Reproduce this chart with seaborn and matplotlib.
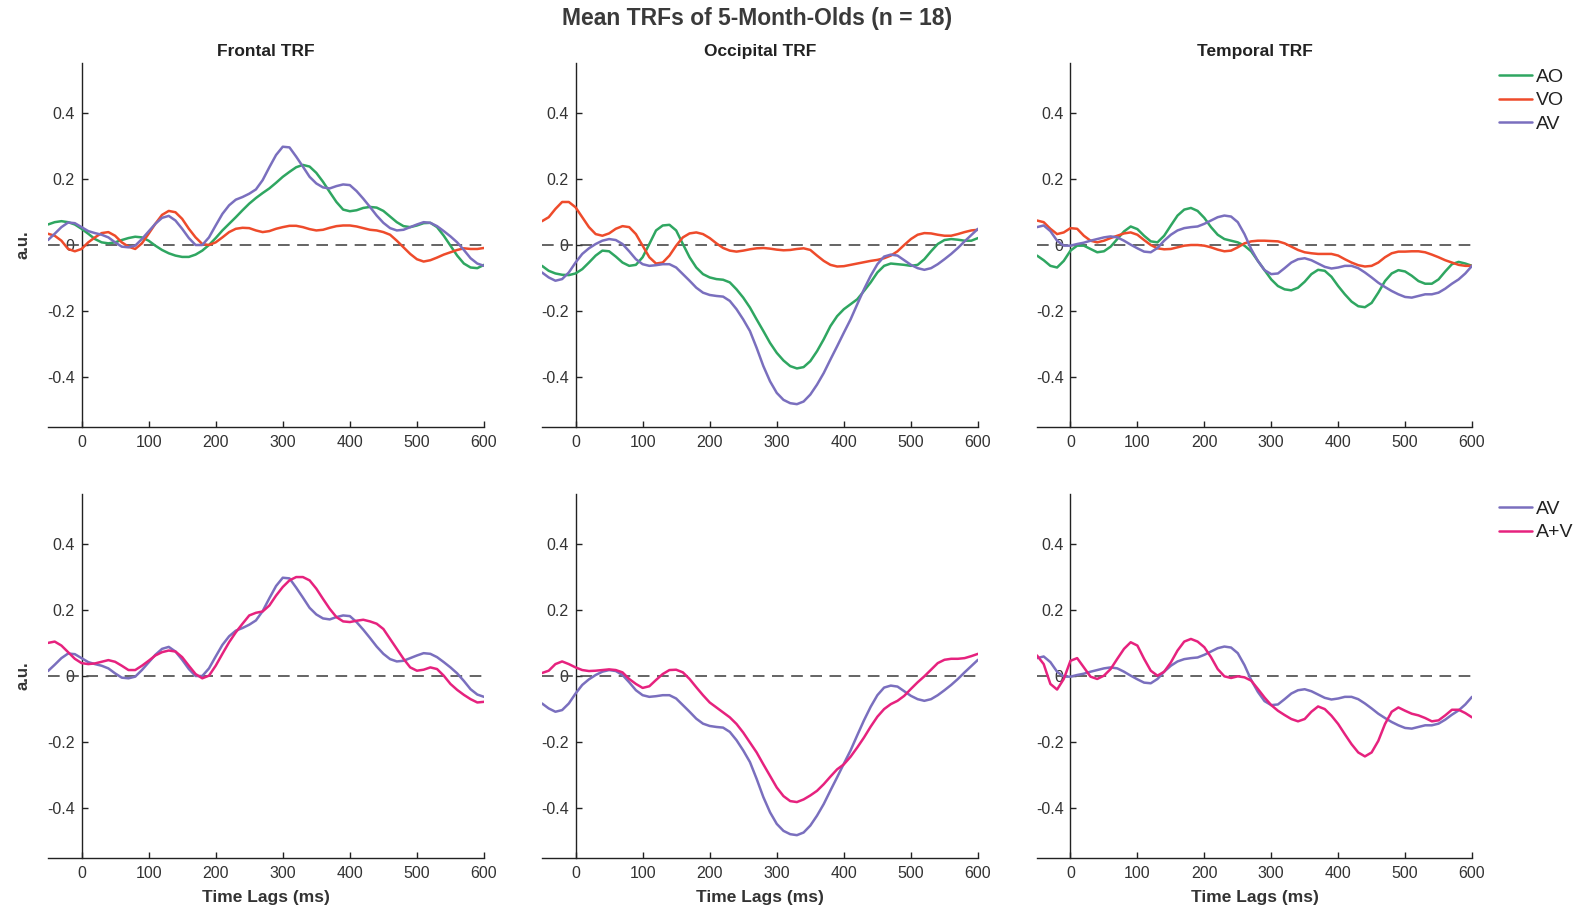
import numpy as np
import pandas as pd
import matplotlib
matplotlib.use("Agg")
import matplotlib.pyplot as plt
import seaborn as sns
from matplotlib.lines import Line2D

sns.set_style("white")
plt.rcParams["font.family"] = ["Liberation Sans", "DejaVu Sans"]

# Time lags (ms), 10 ms steps from -50 to 600
lags = list(range(-50, 601, 10))

# ---- Frontal ----
frontal_ao = [0.062, 0.069, 0.072, 0.069, 0.062, 0.049, 0.034, 0.018, 0.008, 0.005,
              0.008, 0.015, 0.021, 0.025, 0.023, 0.013, -0.002, -0.015, -0.025, -0.032,
              -0.036, -0.036, -0.029, -0.017, 0.0, 0.021, 0.044, 0.064, 0.084, 0.105,
              0.125, 0.142, 0.157, 0.171, 0.188, 0.206, 0.221, 0.235, 0.242, 0.237,
              0.218, 0.191, 0.160, 0.130, 0.107, 0.102, 0.105, 0.112, 0.115, 0.113,
              0.103, 0.086, 0.069, 0.057, 0.054, 0.059, 0.066, 0.067, 0.054, 0.028,
              -0.002, -0.032, -0.056, -0.068, -0.070, -0.060]
frontal_vo = [0.034, 0.028, 0.013, -0.012, -0.019, -0.012, 0.008, 0.023, 0.036, 0.039,
              0.028, 0.008, -0.005, -0.012, 0.005, 0.034, 0.064, 0.091, 0.103, 0.099,
              0.079, 0.049, 0.023, 0.003, 0.0, 0.008, 0.023, 0.039, 0.049, 0.052,
              0.051, 0.044, 0.039, 0.042, 0.049, 0.054, 0.058, 0.058, 0.054, 0.048,
              0.044, 0.046, 0.052, 0.057, 0.059, 0.059, 0.056, 0.051, 0.046, 0.044,
              0.039, 0.031, 0.013, -0.007, -0.027, -0.043, -0.050, -0.046, -0.038, -0.029,
              -0.022, -0.015, -0.010, -0.012, -0.012, -0.009]
frontal_av = [0.015, 0.034, 0.054, 0.068, 0.066, 0.054, 0.042, 0.036, 0.031, 0.023,
              0.008, -0.005, -0.007, -0.002, 0.018, 0.041, 0.064, 0.082, 0.088, 0.074,
              0.049, 0.021, 0.0, 0.0, 0.023, 0.059, 0.094, 0.120, 0.137, 0.145,
              0.155, 0.168, 0.196, 0.235, 0.272, 0.297, 0.295, 0.267, 0.237, 0.206,
              0.186, 0.174, 0.171, 0.178, 0.183, 0.181, 0.163, 0.140, 0.115, 0.089,
              0.067, 0.051, 0.044, 0.046, 0.054, 0.062, 0.069, 0.067, 0.057, 0.042,
              0.026, 0.008, -0.015, -0.040, -0.056, -0.063]
frontal_apv = [0.100, 0.104, 0.092, 0.072, 0.052, 0.039, 0.036, 0.038, 0.043, 0.048,
               0.043, 0.031, 0.018, 0.018, 0.031, 0.046, 0.062, 0.072, 0.077, 0.074,
               0.057, 0.031, 0.006, -0.007, 0.001, 0.031, 0.067, 0.102, 0.132, 0.158,
               0.183, 0.191, 0.195, 0.213, 0.243, 0.269, 0.289, 0.299, 0.299, 0.289,
               0.264, 0.233, 0.203, 0.178, 0.165, 0.163, 0.167, 0.170, 0.165, 0.158,
               0.142, 0.112, 0.082, 0.052, 0.026, 0.016, 0.019, 0.026, 0.021, 0.001,
               -0.024, -0.042, -0.057, -0.070, -0.080, -0.078]

# ---- Occipital ----
occipital_ao = [-0.063, -0.078, -0.086, -0.090, -0.091, -0.086, -0.073, -0.053, -0.032, -0.017,
                -0.019, -0.035, -0.053, -0.063, -0.060, -0.037, 0.003, 0.044, 0.059, 0.061,
                0.044, 0.003, -0.037, -0.068, -0.088, -0.098, -0.103, -0.105, -0.113, -0.134,
                -0.159, -0.189, -0.225, -0.260, -0.296, -0.326, -0.349, -0.366, -0.373, -0.369,
                -0.351, -0.321, -0.285, -0.245, -0.215, -0.194, -0.179, -0.164, -0.139, -0.113,
                -0.083, -0.063, -0.056, -0.058, -0.060, -0.063, -0.060, -0.043, -0.019, 0.003,
                0.015, 0.018, 0.016, 0.013, 0.013, 0.021]
occipital_vo = [0.072, 0.084, 0.109, 0.130, 0.130, 0.114, 0.084, 0.054, 0.033, 0.028,
                0.035, 0.049, 0.057, 0.054, 0.033, -0.002, -0.037, -0.056, -0.053, -0.032,
                -0.002, 0.023, 0.035, 0.038, 0.033, 0.021, 0.005, -0.009, -0.017, -0.020,
                -0.017, -0.013, -0.010, -0.009, -0.011, -0.014, -0.016, -0.015, -0.012, -0.010,
                -0.015, -0.032, -0.048, -0.060, -0.065, -0.064, -0.060, -0.056, -0.052, -0.048,
                -0.045, -0.040, -0.032, -0.019, 0.0, 0.018, 0.031, 0.036, 0.035, 0.031,
                0.028, 0.028, 0.033, 0.039, 0.044, 0.046]
occipital_av = [-0.083, -0.098, -0.108, -0.103, -0.083, -0.053, -0.027, -0.010, 0.003, 0.013,
                0.018, 0.015, 0.003, -0.019, -0.043, -0.058, -0.063, -0.061, -0.058, -0.058,
                -0.068, -0.088, -0.108, -0.129, -0.144, -0.151, -0.154, -0.156, -0.169, -0.194,
                -0.225, -0.260, -0.311, -0.366, -0.412, -0.447, -0.468, -0.478, -0.481, -0.473,
                -0.452, -0.422, -0.387, -0.346, -0.306, -0.265, -0.225, -0.179, -0.134, -0.093,
                -0.058, -0.035, -0.029, -0.032, -0.046, -0.060, -0.070, -0.075, -0.070, -0.058,
                -0.043, -0.027, -0.009, 0.011, 0.030, 0.049]
occipital_apv = [0.009, 0.016, 0.036, 0.044, 0.036, 0.026, 0.018, 0.015, 0.016, 0.018,
                 0.020, 0.018, 0.011, -0.009, -0.024, -0.036, -0.031, -0.012, 0.006, 0.018,
                 0.019, 0.011, -0.009, -0.034, -0.058, -0.080, -0.095, -0.110, -0.125, -0.145,
                 -0.171, -0.201, -0.231, -0.267, -0.302, -0.337, -0.363, -0.378, -0.381, -0.373,
                 -0.361, -0.347, -0.327, -0.304, -0.282, -0.267, -0.244, -0.216, -0.186, -0.153,
                 -0.123, -0.100, -0.085, -0.075, -0.060, -0.039, -0.019, -0.001, 0.019, 0.039,
                 0.049, 0.052, 0.052, 0.054, 0.060, 0.067]

# ---- Temporal ----
temporal_ao = [-0.032, -0.046, -0.063, -0.068, -0.048, -0.017, -0.002, -0.002, -0.012, -0.022,
               -0.019, -0.005, 0.018, 0.041, 0.056, 0.048, 0.028, 0.011, 0.008, 0.028,
               0.059, 0.089, 0.107, 0.112, 0.103, 0.082, 0.054, 0.031, 0.018, 0.013,
               0.008, -0.002, -0.019, -0.048, -0.076, -0.104, -0.124, -0.134, -0.137, -0.129,
               -0.111, -0.088, -0.075, -0.078, -0.096, -0.124, -0.149, -0.171, -0.185, -0.188,
               -0.175, -0.144, -0.109, -0.086, -0.076, -0.080, -0.093, -0.109, -0.117, -0.117,
               -0.104, -0.080, -0.058, -0.051, -0.056, -0.063]
temporal_vo = [0.074, 0.069, 0.049, 0.033, 0.038, 0.051, 0.049, 0.028, 0.013, 0.008,
               0.013, 0.021, 0.028, 0.035, 0.038, 0.031, 0.015, 0.0, -0.010, -0.013,
               -0.012, -0.007, -0.002, 0.0, 0.0, -0.002, -0.007, -0.014, -0.019, -0.017,
               -0.007, 0.005, 0.011, 0.013, 0.013, 0.012, 0.011, 0.005, -0.005, -0.015,
               -0.022, -0.025, -0.027, -0.027, -0.027, -0.032, -0.043, -0.053, -0.061, -0.065,
               -0.063, -0.053, -0.037, -0.025, -0.020, -0.020, -0.019, -0.019, -0.022, -0.029,
               -0.037, -0.046, -0.053, -0.060, -0.063, -0.063]
temporal_av = [0.054, 0.059, 0.042, 0.013, -0.002, -0.002, 0.003, 0.007, 0.013, 0.018,
               0.023, 0.026, 0.023, 0.013, 0.001, -0.010, -0.020, -0.022, -0.009, 0.013,
               0.031, 0.044, 0.051, 0.054, 0.056, 0.064, 0.074, 0.084, 0.089, 0.086,
               0.069, 0.033, -0.012, -0.048, -0.076, -0.088, -0.086, -0.070, -0.053, -0.043,
               -0.040, -0.046, -0.056, -0.066, -0.071, -0.068, -0.063, -0.063, -0.070, -0.083,
               -0.098, -0.114, -0.127, -0.139, -0.149, -0.157, -0.159, -0.154, -0.149, -0.149,
               -0.144, -0.132, -0.117, -0.104, -0.086, -0.063]
temporal_apv = [0.062, 0.036, -0.024, -0.041, -0.009, 0.046, 0.054, 0.026, -0.002, -0.009,
                0.001, 0.021, 0.052, 0.082, 0.102, 0.092, 0.052, 0.016, 0.001, 0.013,
                0.041, 0.077, 0.104, 0.112, 0.104, 0.087, 0.057, 0.021, -0.001, -0.006,
                -0.001, -0.004, -0.014, -0.039, -0.065, -0.088, -0.105, -0.118, -0.130, -0.137,
                -0.130, -0.108, -0.092, -0.100, -0.120, -0.145, -0.176, -0.206, -0.231, -0.243,
                -0.231, -0.196, -0.145, -0.108, -0.095, -0.105, -0.114, -0.119, -0.127, -0.137,
                -0.134, -0.119, -0.102, -0.102, -0.112, -0.125]

regions = ["Frontal TRF", "Occipital TRF", "Temporal TRF"]
top_series = [
    {"AO": frontal_ao, "VO": frontal_vo, "AV": frontal_av},
    {"AO": occipital_ao, "VO": occipital_vo, "AV": occipital_av},
    {"AO": temporal_ao, "VO": temporal_vo, "AV": temporal_av},
]
bottom_series = [
    {"AV": frontal_av, "A+V": frontal_apv},
    {"AV": occipital_av, "A+V": occipital_apv},
    {"AV": temporal_av, "A+V": temporal_apv},
]

palette = {"AO": "#2fa661", "VO": "#ee4b2b", "AV": "#7a6fbe", "A+V": "#e6227e"}

yticks = [-0.4, -0.2, 0, 0.2, 0.4]
yticklabels = ["-0.4", "-0.2", "0", "0.2", "0.4"]
xticks = [0, 100, 200, 300, 400, 500, 600]

W, H = 1578, 909
fig = plt.figure(figsize=(W / 100, H / 100), dpi=100)

# axes boxes in pixels: (left, right) per column, (top, bottom) per row
col_px = [(48, 484), (542, 978), (1037, 1472)]
row_px = [(63, 427), (494, 858)]


def to_fig(l, r, t, b):
    return [l / W, 1 - b / H, (r - l) / W, (b - t) / H]


def style_axes(ax, show_xlabel, show_ylabel):
    ax.set_xlim(-50, 600)
    ax.set_ylim(-0.55, 0.55)
    ax.axhline(0, color="#4a4a4a", lw=1.2, ls=(0, (7, 4.5)), zorder=1)
    for s in ["top", "right"]:
        ax.spines[s].set_visible(False)
    ax.spines["left"].set_position(("data", 0))
    for s in ["left", "bottom"]:
        ax.spines[s].set_color("#222222")
        ax.spines[s].set_linewidth(1.0)
    ax.set_xticks(xticks)
    ax.set_xticklabels([str(v) for v in xticks])
    ax.set_yticks(yticks)
    ax.set_yticklabels(yticklabels)
    ax.tick_params(axis="both", which="major", direction="in", length=4, width=1.0,
                   colors="#222222", labelsize=11.5, labelcolor="#333333",
                   bottom=True, left=True, top=False, right=False)
    ax.tick_params(axis="x", pad=6)
    ax.tick_params(axis="y", pad=5)
    if show_ylabel:
        ax.set_ylabel("a.u.", fontsize=12, fontweight="bold", color="#333333")
        ax.yaxis.set_label_coords(-0.04, 0.5)
    else:
        ax.set_ylabel("")
    if show_xlabel:
        ax.set_xlabel("Time Lags (ms)", fontsize=12.5, fontweight="bold", color="#333333")
        ax.xaxis.set_label_coords(0.5, -0.088)
    else:
        ax.set_xlabel("")


for row, series_list in enumerate([top_series, bottom_series]):
    for col, series in enumerate(series_list):
        l, r = col_px[col]
        t, b = row_px[row]
        ax = fig.add_axes(to_fig(l, r, t, b))
        frames = [pd.DataFrame({"lag": lags, "value": vals, "condition": name})
                  for name, vals in series.items()]
        df = pd.concat(frames, ignore_index=True)
        sns.lineplot(data=df, x="lag", y="value", hue="condition",
                     hue_order=list(series.keys()), palette=palette,
                     linewidth=1.8, legend=False, ax=ax, zorder=3)
        style_axes(ax, show_xlabel=(row == 1), show_ylabel=(col == 0))

        if row == 0:
            ax.set_title(regions[col], fontsize=12.5, fontweight="bold",
                         color="#222222", pad=5)

        if col == 2:
            handles = [Line2D([0], [0], color=palette[n], lw=1.8) for n in series]
            top_px = 68 if row == 0 else 500
            ax.legend(handles, list(series.keys()), loc="upper left",
                      bbox_to_anchor=(1499 / W, 1 - top_px / H),
                      bbox_transform=fig.transFigure, frameon=False,
                      fontsize=14, handlelength=1.7, handletextpad=0.2,
                      labelspacing=0.32, borderaxespad=0, borderpad=0,
                      labelcolor="#222222")

fig.text(757 / W, 1 - 19 / H, "Mean TRFs of 5-Month-Olds (n = 18)",
         ha="center", va="center", fontsize=16.5, fontweight="bold", color="#3a3a3a")

fig.savefig("out.png", dpi=100, facecolor="white")
